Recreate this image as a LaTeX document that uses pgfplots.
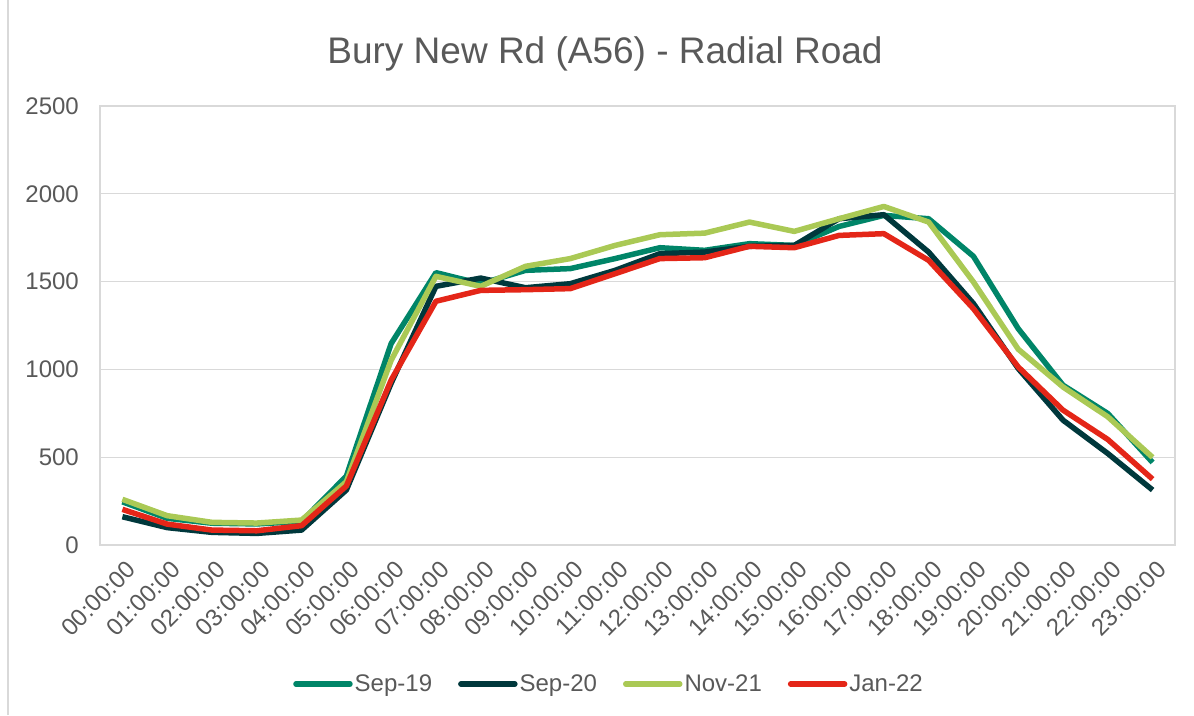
\documentclass[border=0pt]{standalone}
\usepackage{pgfplots}
\pgfplotsset{compat=1.18}
\usepackage{pgfplotstable}
\usepackage{fontspec}
\setmainfont{Liberation Sans}
\definecolor{txtgrey}{HTML}{595959}
\definecolor{gridgrey}{HTML}{D9D9D9}
\definecolor{cSepA}{RGB}{0,133,104}
\definecolor{cSepB}{RGB}{0,56,60}
\definecolor{cNov}{RGB}{170,201,85}
\definecolor{cJan}{RGB}{228,38,24}
\pgfplotstableread{
i S19 S20 N21 J22
0 246 161 260 203
1 152 99 167 119
2 124 72 129 85
3 120 66 125 81
4 134 85 142 110
5 392 313 360 336
6 1147 921 1052 939
7 1551 1473 1530 1388
8 1488 1520 1473 1450
9 1564 1465 1587 1454
10 1574 1488 1631 1460
11 1631 1564 1706 1545
12 1693 1659 1767 1631
13 1678 1668 1776 1636
14 1716 1701 1839 1701
15 1706 1706 1786 1693
16 1814 1858 1858 1763
17 1877 1881 1928 1773
18 1858 1668 1839 1621
19 1644 1375 1498 1346
20 1232 1005 1115 1014
21 910 711 900 768
22 749 521 730 601
23 470 313 499 375
}\datatable
\begin{document}
\begin{tikzpicture}
\useasboundingbox (0,0) rectangle (1194pt,715pt);
\draw[gridgrey, line width=1.3pt] (8pt,0pt) -- (8pt,715pt);
\node[anchor=base, text=txtgrey, font=\fontsize{37}{44}\selectfont, inner sep=0pt] at (605pt,651pt) {Bury New Rd (A56) - Radial Road};
\begin{axis}[
  at={(100pt,170pt)}, anchor=south west,
  width=1075pt, height=439pt, scale only axis,
  xmin=-0.5, xmax=23.5, ymin=0, ymax=2500,
  ytick={0,500,1000,1500,2000,2500},
  xtick={0,...,23},
  xticklabels={00:00:00,01:00:00,02:00:00,03:00:00,04:00:00,05:00:00,06:00:00,07:00:00,08:00:00,09:00:00,10:00:00,11:00:00,12:00:00,13:00:00,14:00:00,15:00:00,16:00:00,17:00:00,18:00:00,19:00:00,20:00:00,21:00:00,22:00:00,23:00:00},
  ymajorgrids, major grid style={gridgrey, line width=1.3pt},
  axis line style={gridgrey, line width=1.3pt},
  major tick length=0pt,
  /pgf/number format/assume math mode=true,
  /pgf/number format/1000 sep={},
  tick label style={text=txtgrey, font=\fontsize{24}{28}\selectfont},
  yticklabel style={inner sep=0pt, xshift=-21pt},
  xticklabel style={rotate=45, anchor=east, inner sep=0pt, xshift=-8pt, yshift=-21pt},
  legend columns=4,
  legend style={at={(0.4735,-0.3166)}, anchor=center, draw=none, fill=none, inner sep=0pt,
    font=\fontsize{24}{28}\selectfont, text=txtgrey,
    nodes={inner sep=2pt},
    /tikz/every even column/.append style={column sep=24pt}},
  legend image code/.code={\draw[#1, line cap=round] (0pt,0pt) -- (54pt,0pt);},
  every axis plot/.append style={line width=5.5pt, line join=round},
]
\addplot[cSepA, mark=none] table[x=i, y=S19] {\datatable};
\addlegendentry{Sep-19}
\addplot[cSepB, mark=none] table[x=i, y=S20] {\datatable};
\addlegendentry{Sep-20}
\addplot[cNov, mark=none] table[x=i, y=N21] {\datatable};
\addlegendentry{Nov-21}
\addplot[cJan, mark=none] table[x=i, y=J22] {\datatable};
\addlegendentry{Jan-22}
\end{axis}
\end{tikzpicture}
\end{document}
